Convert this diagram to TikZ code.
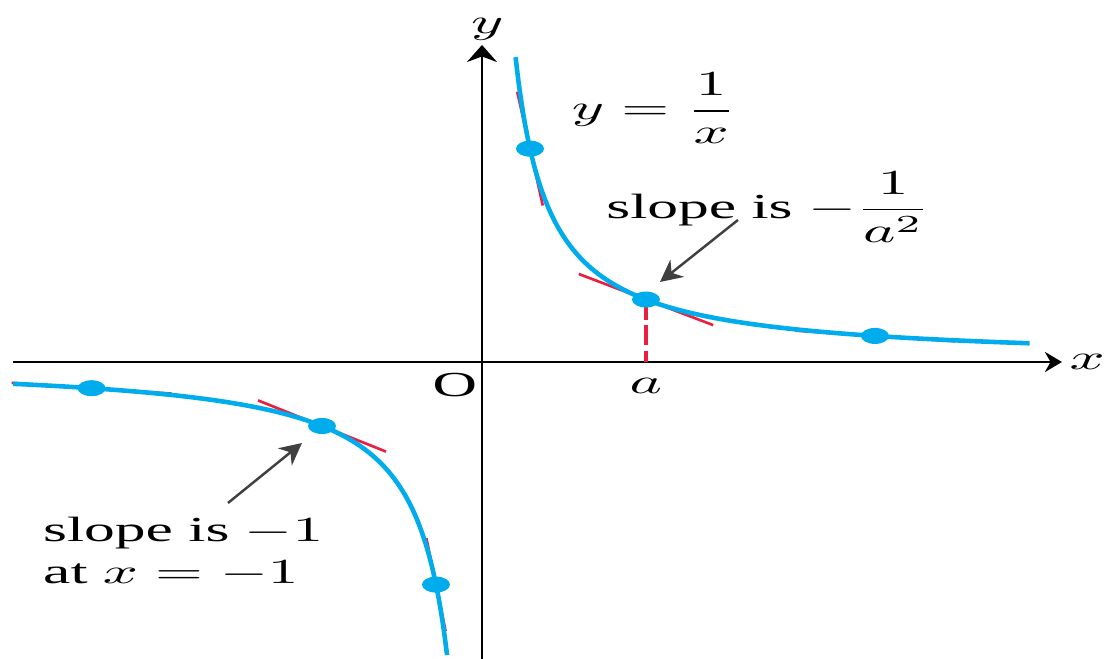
\documentclass[tikz,border=0pt]{standalone}
\usepackage{amsmath}
\usepackage{fontspec}
\setmainfont{Liberation Serif}
\usetikzlibrary{arrows.meta,calc,shapes.geometric}
\definecolor{curveblue}{RGB}{0,172,236}
\definecolor{tanred}{RGB}{236,30,64}
\newcommand{\widetxt}[1]{\scalebox{1.75}[1]{#1}}
\tikzset{axis/.style={line width=0.8pt, -{Stealth[length=1.7mm, width=2mm]}},
  branch/.style={curveblue, line width=1.3pt},
  tang/.style={tanred, line width=0.75pt},
  dot/.style={ellipse, fill=curveblue, inner sep=0pt, minimum width=2.8mm, minimum height=1.6mm},
  pin/.style={-{Stealth[length=2.2mm, width=2.2mm]}, line width=0.7pt, black!75}}

\begin{document}
\begin{tikzpicture}[x=1.6cm, y=0.64cm]
  \useasboundingbox (-3.0125,-4.640625) rectangle (3.8875,5.65625);
  % axes
  \draw[axis] (-2.93,0) -- (3.625,0) coordinate (xend);
  \draw[axis, -{Stealth[length=1.7mm, width=3mm]}] (0,-4.65) -- (0,4.953) coordinate (yend);
  \node[right, inner sep=2pt] (xlbl) at (xend) {\widetxt{$x$}};
  \node[above, inner sep=1pt, xshift=1.5pt] (ylbl) at (yend) {\widetxt{$y$}};
  \node (orig) at (-0.169,-0.36) {\widetxt{O}};
  % tangent pieces: x0 / half length
  \foreach \x/\h in {0.3/0.08, 1.025/0.42, 2.456/0.5, -2.44/0.5, -1/0.4, -0.2875/0.06}{
    \draw[tang] ({\x-\h},{1/\x+\h/(\x*\x)}) -- ({\x+\h},{1/\x-\h/(\x*\x)});
  }
  % the two branches of y = 1/x
  \draw[branch] plot[domain=0.21:3.425, samples=200, smooth] (\x,{1/\x});
  \draw[branch] plot[domain=-2.93:-0.2155, samples=200, smooth] (\x,{1/\x});
  % dashed drop from the point at a
  \coordinate (afoot) at (1.025,0);
  \draw[tanred, line width=1pt, dash pattern=on 2mm off 0.55mm] (1.025,{1/1.025}) -- (afoot);
  \foreach \x [count=\i] in {0.3, 1.025, 2.456, -2.44, -1, -0.2875}{
    \node[dot] (p\i) at (\x,{1/\x}) {};
  }
  \node[below, yshift=-1pt] (albl) at (afoot) {\widetxt{$a$}};
  % labels
  \node (eqn) at (1.075,3.96) {\widetxt{$y=\dfrac{1}{x}$}};
  \node[anchor=west] (slopea) at (0.7,2.42) {\widetxt{slope is $-\dfrac{1}{a^2}$}};
  \node[anchor=west, align=left] (slopeb) at (-2.82,-2.97) {\widetxt{slope is $-1$}\\\widetxt{at $x=-1$}};
  \coordinate (tailA) at (1.6,2.219);
  \coordinate (tipA) at (1.1125,1.25);
  \coordinate (tailB) at (-1.5875,-2.203);
  \coordinate (tipB) at (-1.125,-1.266);
  \draw[pin] (tailA) -- (tipA);
  \draw[pin] (tailB) -- (tipB);
\end{tikzpicture}
\end{document}
